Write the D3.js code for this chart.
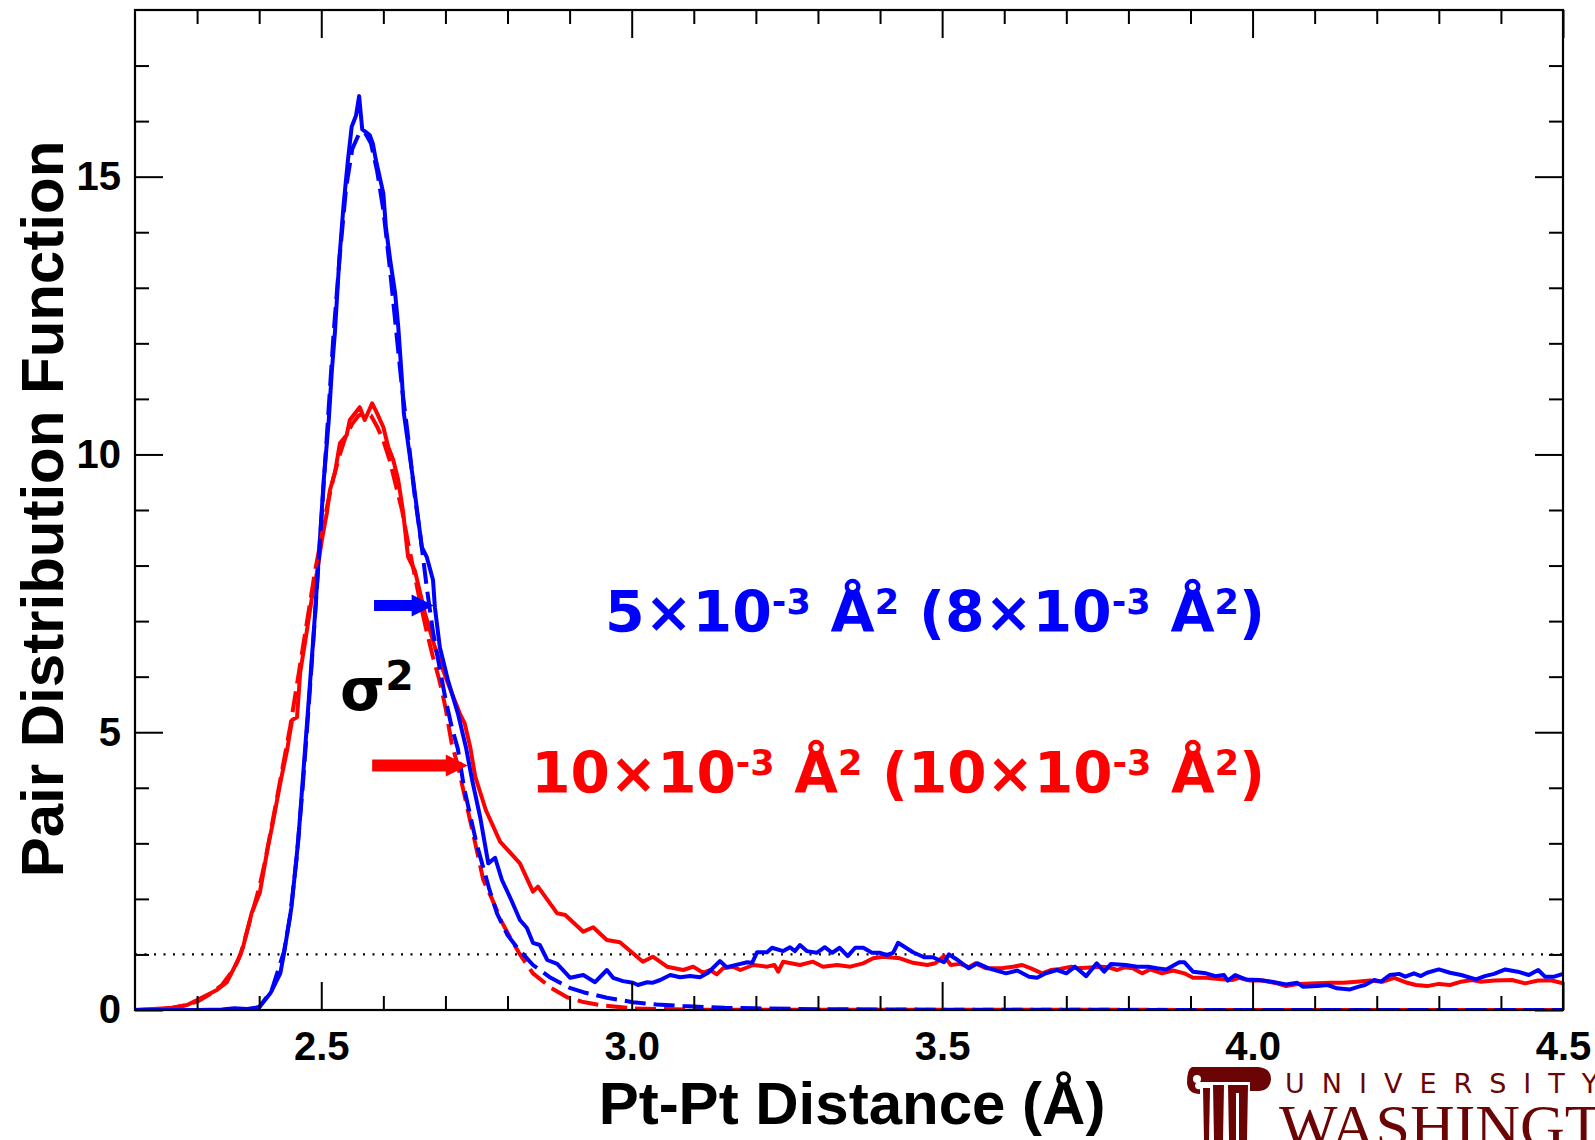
<!DOCTYPE html>
<html>
<head>
<meta charset="utf-8">
<script src="https://cdn.jsdelivr.net/npm/d3@7"></script>
<style>
  body{margin:0;background:#fff;}
</style>
</head>
<body>
<svg id="chart" width="1595" height="1140"></svg>
<script>
// --- data (Pt-Pt distance in Å, g(r))

// blue: measured PDF
var blueX = [2.20,2.30,2.34,2.36,2.38,2.40,2.418,2.434,2.440,2.452,2.463,2.471,2.479,2.487,2.490,2.497,2.504,2.512,2.517,2.522,2.529,2.536,2.543,2.549,2.556,2.561,2.566,2.572,2.578,2.583,2.588,2.600,2.604,2.611,2.619,2.624,2.630,2.633,2.648,2.662,2.670,2.680,2.683,2.691,2.704,2.720,2.733,2.743,2.756,2.769,2.780,2.791,2.806,2.820,2.831,2.841,2.852,2.864,2.880,2.901,2.922,2.941,2.960,2.970,2.986,3.002,3.010,3.025,3.033,3.046,3.062,3.078,3.094,3.110,3.123,3.142,3.153,3.175,3.186,3.194,3.202,3.218,3.226,3.244,3.255,3.263,3.271,3.282,3.298,3.311,3.323,3.335,3.348,3.360,3.373,3.387,3.400,3.411,3.421,3.429,3.453,3.471,3.485,3.503,3.511,3.525,3.543,3.557,3.575,3.603,3.621,3.640,3.653,3.667,3.685,3.700,3.714,3.732,3.749,3.761,3.772,3.796,3.814,3.832,3.846,3.861,3.882,3.890,3.904,3.925,3.940,3.954,3.960,3.972,3.989,4.010,4.031,4.054,4.072,4.081,4.104,4.121,4.136,4.157,4.171,4.181,4.196,4.207,4.221,4.236,4.246,4.260,4.271,4.281,4.300,4.318,4.336,4.360,4.374,4.389,4.407,4.427,4.445,4.460,4.471,4.486,4.500];
var blueY = [0,0,0.01,0.03,0.02,0.05,0.30,0.66,1.02,1.85,3.06,4.26,5.45,6.66,7.14,8.33,9.54,10.6,11.5,12.2,13.5,14.5,15.3,15.9,16.1,16.45,15.85,15.8,15.75,15.6,15.3,14.7,14.1,13.5,12.9,12.3,11.34,10.74,9.54,8.33,8.15,7.74,7.25,6.53,5.94,5.34,4.73,4.14,3.47,2.64,2.74,2.34,1.98,1.62,1.48,1.21,1.17,0.90,0.83,0.58,0.63,0.50,0.72,0.58,0.52,0.49,0.45,0.50,0.49,0.54,0.63,0.59,0.61,0.59,0.67,0.88,0.77,0.83,0.86,0.85,1.04,1.04,1.12,1.06,1.13,1.06,1.17,1.06,1.03,1.13,1.03,1.12,0.97,1.12,1.12,1.03,1.03,0.99,1.03,1.21,1.04,0.95,0.95,0.86,1.00,0.90,0.75,0.84,0.75,0.66,0.71,0.60,0.58,0.66,0.72,0.66,0.78,0.61,0.84,0.69,0.83,0.81,0.78,0.78,0.75,0.73,0.86,0.86,0.69,0.66,0.61,0.63,0.53,0.63,0.55,0.54,0.51,0.46,0.49,0.42,0.43,0.45,0.39,0.37,0.42,0.45,0.54,0.51,0.63,0.65,0.60,0.66,0.61,0.67,0.73,0.67,0.63,0.55,0.61,0.65,0.73,0.69,0.63,0.72,0.60,0.60,0.65];

// red: measured PDF
var redX = [2.20,2.23,2.26,2.284,2.300,2.316,2.332,2.348,2.366,2.374,2.388,2.401,2.414,2.422,2.434,2.445,2.453,2.461,2.466,2.477,2.485,2.493,2.501,2.509,2.514,2.522,2.530,2.541,2.546,2.562,2.570,2.582,2.590,2.600,2.608,2.616,2.624,2.632,2.638,2.640,2.648,2.651,2.667,2.683,2.702,2.723,2.731,2.740,2.748,2.765,2.788,2.820,2.841,2.849,2.880,2.893,2.922,2.938,2.960,2.981,3.002,3.018,3.034,3.057,3.083,3.099,3.115,3.126,3.137,3.147,3.163,3.175,3.196,3.218,3.230,3.236,3.244,3.271,3.292,3.308,3.331,3.352,3.373,3.389,3.405,3.432,3.453,3.476,3.489,3.503,3.514,3.529,3.543,3.554,3.571,3.596,3.614,3.629,3.643,3.661,3.675,3.690,3.708,3.718,3.732,3.757,3.768,3.782,3.794,3.807,3.822,3.835,3.854,3.872,3.890,3.904,3.925,3.946,3.967,3.978,3.996,4.017,4.039,4.054,4.075,4.104,4.125,4.146,4.168,4.189,4.210,4.228,4.246,4.263,4.281,4.300,4.318,4.336,4.353,4.368,4.389,4.418,4.439,4.460,4.482,4.500];
var redY = [0,0.02,0.04,0.09,0.18,0.27,0.36,0.50,0.90,1.13,1.75,2.11,2.93,3.37,4.09,4.68,5.22,5.27,6.07,6.84,7.43,7.87,8.46,8.95,9.36,9.67,10.2,10.35,10.62,10.85,10.62,10.92,10.74,10.49,10.13,9.90,9.54,8.95,8.33,8.15,7.97,7.90,7.14,6.53,5.94,5.34,5.16,4.73,4.20,3.60,3.03,2.64,2.13,2.22,1.74,1.71,1.41,1.49,1.26,1.22,1.02,0.87,0.96,0.78,0.72,0.78,0.67,0.72,0.64,0.75,0.78,0.72,0.81,0.78,0.81,0.69,0.87,0.81,0.87,0.78,0.81,0.78,0.84,0.93,0.96,0.93,0.85,0.81,0.84,0.97,0.81,0.83,0.77,0.84,0.75,0.75,0.78,0.81,0.75,0.66,0.72,0.74,0.78,0.75,0.76,0.78,0.77,0.72,0.77,0.75,0.66,0.73,0.66,0.71,0.66,0.58,0.58,0.56,0.54,0.58,0.53,0.53,0.48,0.43,0.47,0.48,0.49,0.49,0.51,0.53,0.51,0.58,0.50,0.45,0.43,0.47,0.45,0.51,0.54,0.51,0.53,0.54,0.48,0.53,0.53,0.48];

// blue dashed: fitted peak
var blueFitX = [2.20,2.38,2.40,2.42,2.44,2.45,2.46,2.47,2.48,2.49,2.50,2.51,2.52,2.53,2.54,2.55,2.56,2.57,2.58,2.59,2.60,2.61,2.62,2.63,2.64,2.65,2.66,2.67,2.68,2.69,2.70,2.71,2.72,2.73,2.75,2.77,2.783,2.80,2.815,2.841,2.868,2.90,2.922,2.96,3.002,3.04,3.083,3.15,3.20,3.30,3.50,4.00,4.50];
var blueFitY = [0,0,0.05,0.35,1.05,1.7,2.7,4.0,5.5,7.1,8.8,10.5,12.2,13.6,14.8,15.5,15.75,15.8,15.6,15.1,14.4,13.4,12.3,11.2,10.3,9.3,8.5,7.6,6.8,6.2,5.6,5.1,4.7,4.0,3.0,2.2,1.74,1.35,1.13,0.81,0.59,0.40,0.32,0.22,0.14,0.10,0.07,0.04,0.03,0.015,0.005,0,0];

// red dashed: fitted peak
var redFitX = [2.20,2.25,2.28,2.30,2.32,2.34,2.36,2.37,2.38,2.39,2.40,2.41,2.42,2.43,2.44,2.45,2.46,2.47,2.48,2.49,2.50,2.51,2.52,2.53,2.54,2.55,2.56,2.57,2.58,2.59,2.60,2.61,2.62,2.63,2.64,2.65,2.66,2.67,2.68,2.69,2.70,2.71,2.72,2.73,2.74,2.75,2.761,2.775,2.79,2.804,2.82,2.841,2.87,2.896,2.92,2.949,3.00,3.10,4.50];
var redFitY = [0,0.02,0.08,0.15,0.28,0.45,0.75,1.0,1.4,1.8,2.2,2.7,3.3,3.9,4.5,5.1,5.8,6.5,7.2,7.9,8.5,9.1,9.6,10.0,10.35,10.55,10.7,10.75,10.7,10.5,10.25,9.9,9.45,9.0,8.4,7.85,7.3,6.8,6.35,5.95,5.45,4.8,4.4,3.9,3.4,2.9,2.34,2.0,1.6,1.31,1.0,0.66,0.4,0.23,0.15,0.09,0.03,0.005,0];

var xMajor = [2.5,3.0,3.5,4.0,4.5];
var xMinor = [2.3,2.4,2.6,2.7,2.8,2.9,3.1,3.2,3.3,3.4,3.6,3.7,3.8,3.9,4.1,4.2,4.3,4.4];
var yMajor = [0,5,10,15];
var yMinor = [1,2,3,4,6,7,8,9,11,12,13,14,16,17];
var refLine = 1;   // dotted g(r)=1 level

var blueColor = "#0000ff", redColor = "#ff0000", uwColor = "#6b0505";

// --- layout  (note: "top" is a read-only window global, so prefix everything)
var W = 1595, H = 1140;
var mLeft = 135, mRight = 1563, mTop = 10, mBottom = 1010;

var svg = d3.select("#chart");
svg.append("rect").attr("width", W).attr("height", H).attr("fill", "#fff");

var x = d3.scaleLinear().domain([2.2, 4.5]).range([mLeft, mRight]);
var y = d3.scaleLinear().domain([0, 18]).range([mBottom, mTop]);

svg.append("clipPath").attr("id", "plotClip")
    .append("rect").attr("x", mLeft).attr("y", mTop)
    .attr("width", mRight - mLeft).attr("height", mBottom - mTop);

var plot = svg.append("g").attr("clip-path", "url(#plotClip)");

// -- dotted reference line
plot.append("line")
    .attr("x1", mLeft).attr("x2", mRight)
    .attr("y1", y(refLine)).attr("y2", y(refLine))
    .attr("stroke", "#000").attr("stroke-width", 2.2)
    .attr("stroke-dasharray", "2,7.5");

function series(xs, ys){
    return xs.map(function(d, i){ return [d, ys[i]]; });
}

var line = d3.line().x(function(d){ return x(d[0]); }).y(function(d){ return y(d[1]); });

var curves = [
    {pts: series(redX, redY), color: redColor, dash: null},
    {pts: series(blueX, blueY), color: blueColor, dash: null},
    {pts: series(redFitX, redFitY), color: redColor, dash: "21,8"},
    {pts: series(blueFitX, blueFitY), color: blueColor, dash: "21,8"}
];

plot.selectAll(".curve").data(curves).enter().append("path")
    .attr("class", "curve")
    .attr("d", function(d){ return line(d.pts); })
    .attr("fill", "none")
    .attr("stroke", function(d){ return d.color; })
    .attr("stroke-width", 4)
    .attr("stroke-linejoin", "round")
    .attr("stroke-dasharray", function(d){ return d.dash; });

// -- axes (ticks point inward on all four sides)
function styleAxis(g){
    g.select(".domain").remove();
    g.selectAll(".tick line").attr("stroke", "#000").attr("stroke-width", 2);
    g.selectAll("text")
        .attr("fill", "#000")
        .style("font-family", "'Liberation Sans', Arial, sans-serif")
        .style("font-weight", "bold")
        .style("font-size", "40px");
}

svg.append("g").attr("transform", "translate(0," + mBottom + ")")
    .call(d3.axisBottom(x).tickValues(xMajor).tickSize(-28).tickPadding(22).tickFormat(d3.format(".1f")))
    .call(styleAxis);
svg.append("g").attr("transform", "translate(0," + mBottom + ")")
    .call(d3.axisBottom(x).tickValues(xMinor).tickSize(-14).tickFormat(""))
    .call(styleAxis);
svg.append("g").attr("transform", "translate(0," + mTop + ")")
    .call(d3.axisTop(x).tickValues(xMajor).tickSize(-28).tickFormat(""))
    .call(styleAxis);
svg.append("g").attr("transform", "translate(0," + mTop + ")")
    .call(d3.axisTop(x).tickValues(xMinor).tickSize(-14).tickFormat(""))
    .call(styleAxis);

svg.append("g").attr("transform", "translate(" + mLeft + ",0)")
    .call(d3.axisLeft(y).tickValues(yMajor).tickSize(-28).tickPadding(14).tickFormat(d3.format("d")))
    .call(styleAxis);
svg.append("g").attr("transform", "translate(" + mLeft + ",0)")
    .call(d3.axisLeft(y).tickValues(yMinor).tickSize(-14).tickFormat(""))
    .call(styleAxis);
svg.append("g").attr("transform", "translate(" + mRight + ",0)")
    .call(d3.axisRight(y).tickValues(yMajor).tickSize(-28).tickFormat(""))
    .call(styleAxis);
svg.append("g").attr("transform", "translate(" + mRight + ",0)")
    .call(d3.axisRight(y).tickValues(yMinor).tickSize(-14).tickFormat(""))
    .call(styleAxis);

// frame
svg.append("rect")
    .attr("x", mLeft).attr("y", mTop)
    .attr("width", mRight - mLeft).attr("height", mBottom - mTop)
    .attr("fill", "none").attr("stroke", "#000").attr("stroke-width", 2.2);

// -- axis titles
svg.append("text")
    .attr("transform", "translate(63," + ((mTop + mBottom) / 2 - 1) + ") rotate(-90)")
    .attr("text-anchor", "middle")
    .style("font-family", "'Liberation Sans', Arial, sans-serif")
    .style("font-weight", "bold").style("font-size", "60px")
    .text("Pair Distribution Function");

svg.append("text")
    .attr("x", 852).attr("y", 1124)
    .attr("text-anchor", "middle")
    .style("font-family", "'Liberation Sans', Arial, sans-serif")
    .style("font-weight", "bold").style("font-size", "60px")
    .text("Pt-Pt Distance (\u00c5)");

// -- annotations: sigma^2 values
function richText(px, py, anchor, parts, color, size, supSize, rise){
    var t = svg.append("text")
        .attr("x", px).attr("y", py)
        .attr("text-anchor", anchor)
        .attr("fill", color)
        .style("font-family", "'DejaVu Sans', Verdana, sans-serif")
        .style("font-weight", "bold")
        .style("font-size", size + "px");
    var raised = false;
    parts.forEach(function(p){
        var sup = p[1];
        var dy = 0;
        if (sup && !raised) { dy = -rise; raised = true; }
        else if (!sup && raised) { dy = rise; raised = false; }
        t.append("tspan")
            .attr("dy", dy)
            .style("font-size", (sup ? supSize : size) + "px")
            .text(p[0]);
    });
    return t;
}

richText(1265, 632, "end",
    [["5\u00d710", 0], ["-3", 1], [" \u00c5", 0], ["2", 1], [" (8\u00d710", 0], ["-3", 1], [" \u00c5", 0], ["2", 1], [")", 0]],
    blueColor, 57, 35, 18);
richText(1265, 793, "end",
    [["10\u00d710", 0], ["-3", 1], [" \u00c5", 0], ["2", 1], [" (10\u00d710", 0], ["-3", 1], [" \u00c5", 0], ["2", 1], [")", 0]],
    redColor, 56.5, 35, 18);
richText(340, 710, "start", [["\u03c3", 0], ["2", 1]], "#000", 58, 41, 20);

// arrows pointing at the peak flanks
function arrow(x0, x1, yv, color, shaft){
    var yy = y(yv), head = 22, half = 11;
    var px0 = x(x0), px1 = x(x1);
    svg.append("path")
        .attr("d", "M" + px0 + "," + (yy - shaft) + "L" + (px1 - head) + "," + (yy - shaft) +
            "L" + (px1 - head) + "," + (yy - half) + "L" + px1 + "," + yy +
            "L" + (px1 - head) + "," + (yy + half) + "L" + (px1 - head) + "," + (yy + shaft) +
            "L" + px0 + "," + (yy + shaft) + "Z")
        .attr("fill", color);
}
arrow(2.585, 2.681, 7.28, blueColor, 5.5);
arrow(2.582, 2.736, 4.40, redColor, 6);

// -- University of Washington logo (bottom right, cut off by the page edge)
var logo = svg.append("g").attr("fill", uwColor);
// capital with scrolls
logo.append("path")
    .attr("d", "M1192,1067 L1258,1067 Q1271,1068 1271,1079 Q1270,1091 1258,1091 L1250,1091 L1250,1082 L1200,1082 Q1195,1082 1195,1086 Q1196,1090 1200,1089 L1200,1094 Q1188,1094 1187,1083 Q1187,1069 1192,1067 Z");
logo.append("circle").attr("cx", 1197).attr("cy", 1079).attr("r", 4).attr("fill", "#fff");
// fluted shafts
logo.append("path").attr("d", "M1203,1088 L1210,1088 L1209,1140 L1204,1140 Z");
logo.append("path").attr("d", "M1213,1085 L1224,1085 L1223,1140 L1214,1140 Z");
logo.append("path").attr("d", "M1228,1085 L1248,1085 L1247,1140 L1229,1140 Z");
logo.append("rect").attr("x", 1236).attr("y", 1093).attr("width", 3).attr("height", 47).attr("fill", "#fff");

logo.append("text")
    .attr("x", 1285).attr("y", 1093)
    .style("font-family", "'DejaVu Sans', sans-serif")
    .style("font-size", "27px")
    .style("letter-spacing", "17px")
    .text("UNIVERSITY");
logo.append("text")
    .attr("x", 1279).attr("y", 1147)
    .style("font-family", "'Liberation Serif', 'Times New Roman', serif")
    .style("font-size", "62px")
    .text("WASHINGTON");
</script>
</body>
</html>
